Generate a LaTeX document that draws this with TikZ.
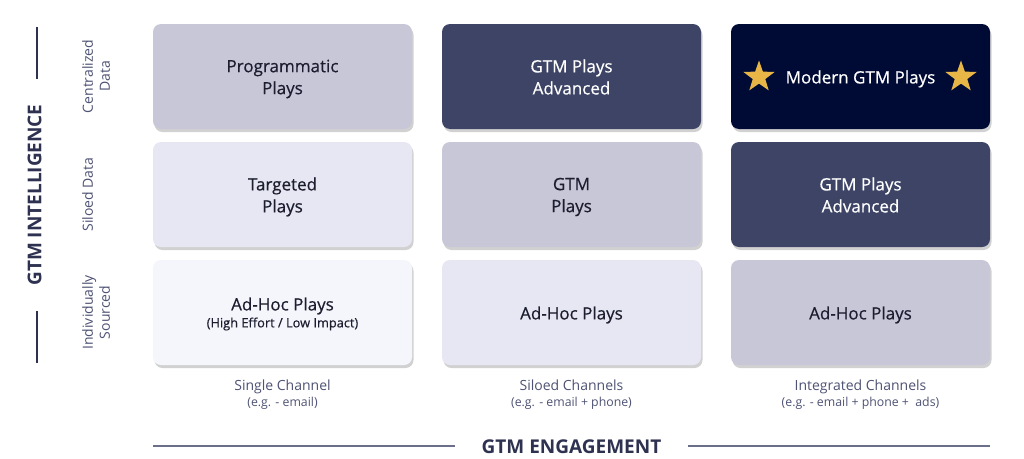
\documentclass[tikz,border=0pt]{standalone}
\usepackage{fontspec}
\setmainfont{Open Sans}
\newfontfamily\cellfont[RawFeature={embolden=0.5}]{Open Sans}
\usetikzlibrary{shapes.geometric,shadows}
\definecolor{cA}{HTML}{C8C7D8}
\definecolor{cB}{HTML}{3D4466}
\definecolor{cC}{HTML}{000B35}
\definecolor{cD}{HTML}{E6E7F2}
\definecolor{cE}{HTML}{F5F6FB}
\definecolor{txt}{HTML}{1C1E30}
\definecolor{axis}{HTML}{2E3250}
\definecolor{lbl}{HTML}{4E5273}
\definecolor{rule}{HTML}{6B6F8A}
\definecolor{gold}{HTML}{E8B547}
\tikzset{
  cell/.style={draw=none, rounded corners=8pt, minimum width=259pt, minimum height=105pt,
    inner sep=0pt,
    drop shadow={shadow xshift=1.5pt, shadow yshift=-3pt, fill=black, opacity=0.18}},
  celltext/.style={align=center, text=txt, inner sep=0pt, yshift=-2.5pt,
    font=\cellfont\fontsize{17}{22}\selectfont},
  dark/.style={text=white},
  rowlbl/.style={rotate=90, anchor=north, align=center, text=lbl, font=\fontsize{14}{17}\selectfont, inner sep=0pt},
  collbl/.style={align=center, text=lbl, font=\fontsize{14}{16}\selectfont, inner sep=0pt},
  axislbl/.style={text=axis, font=\bfseries\fontsize{19}{20}\selectfont, inner sep=0pt},
  axisrule/.style={draw=axis, line width=1.4pt},
  starshape/.style={star, star points=5, star point ratio=2.5, fill=gold, minimum size=33pt, inner sep=0pt, draw=none}
}
\begin{document}
\begin{tikzpicture}[x=1pt,y=-1pt]
\useasboundingbox (0,0) rectangle (1024,458);
% row 1
\node[cell, fill=cA] (r1c1) at (282.5,76.5) {};
\node[cell, fill=cB] (r1c2) at (571.5,76.5) {};
\node[cell, fill=cC] (r1c3) at (860.5,76.5) {};
\node[celltext] (t11) at (r1c1.center) {Programmatic\\Plays};
\node[celltext, dark] (t12) at (r1c2.center) {GTM Plays\\Advanced\vphantom{y}};
\node[celltext, dark] (t13) at (r1c3.center) {Modern GTM Plays};
\node[starshape] (s1) at (759,77) {};
\node[starshape] (s2) at (961,77) {};
% row 2
\node[cell, fill=cD] (r2c1) at (282.5,194.5) {};
\node[cell, fill=cA] (r2c2) at (571.5,194.5) {};
\node[cell, fill=cB] (r2c3) at (860.5,194.5) {};
\node[celltext] (t21) at (r2c1.center) {Targeted\\Plays};
\node[celltext] (t22) at (r2c2.center) {GTM\\Plays};
\node[celltext, dark] (t23) at (r2c3.center) {GTM Plays\\Advanced\vphantom{y}};
% row 3
\node[cell, fill=cE] (r3c1) at (282.5,312.5) {};
\node[cell, fill=cD] (r3c2) at (571.5,312.5) {};
\node[cell, fill=cA] (r3c3) at (860.5,312.5) {};
\node[celltext] (ah) at (282.5,303.5) {Ad-Hoc Plays};
\node[celltext, font=\cellfont\fontsize{12.8}{14}\selectfont] (ahs) at (282.5,321.5) {(High Effort / Low Impact)};
\node[celltext] (t32) at (r3c2.center) {Ad-Hoc Plays};
\node[celltext] (t33) at (r3c3.center) {Ad-Hoc Plays};
% row labels
\node[rowlbl] (l1) at (82,76.5) {Centralized\\Data};
\node[rowlbl] (l2) at (82,194.5) {Siloed Data};
\node[rowlbl] (l3) at (82,312.5) {Individually\\Sourced};
% column labels
\node[collbl] (c1) at (282.5,395) {Single Channel\\{\fontsize{12.3}{14}\selectfont(e.g. - email)}};
\node[collbl] (c2) at (571.5,395) {Siloed Channels\\{\fontsize{12.3}{14}\selectfont(e.g. - email + phone)}};
\node[collbl] (c3) at (860.5,395) {Integrated Channels\\{\fontsize{12.3}{14}\selectfont(e.g. - email + phone +\ \ ads)}};
% vertical axis
\node[axislbl, rotate=90] (vax) at (34.5,195) {GTM INTELLIGENCE};
\coordinate (vt1) at (37,27); \coordinate (vt2) at (37,79);
\coordinate (vb1) at (37,311); \coordinate (vb2) at (37,363);
\draw[axisrule] (vt1) -- (vt2);
\draw[axisrule] (vb1) -- (vb2);
% horizontal axis
\node[axislbl] (hax) at (571.5,446.5) {GTM ENGAGEMENT};
\coordinate (hl1) at (153,446); \coordinate (hl2) at (455,446);
\coordinate (hr1) at (688,446); \coordinate (hr2) at (990,446);
\draw[draw=rule, line width=1.4pt] (hl1) -- (hl2);
\draw[draw=rule, line width=1.4pt] (hr1) -- (hr2);
\end{tikzpicture}
\end{document}
